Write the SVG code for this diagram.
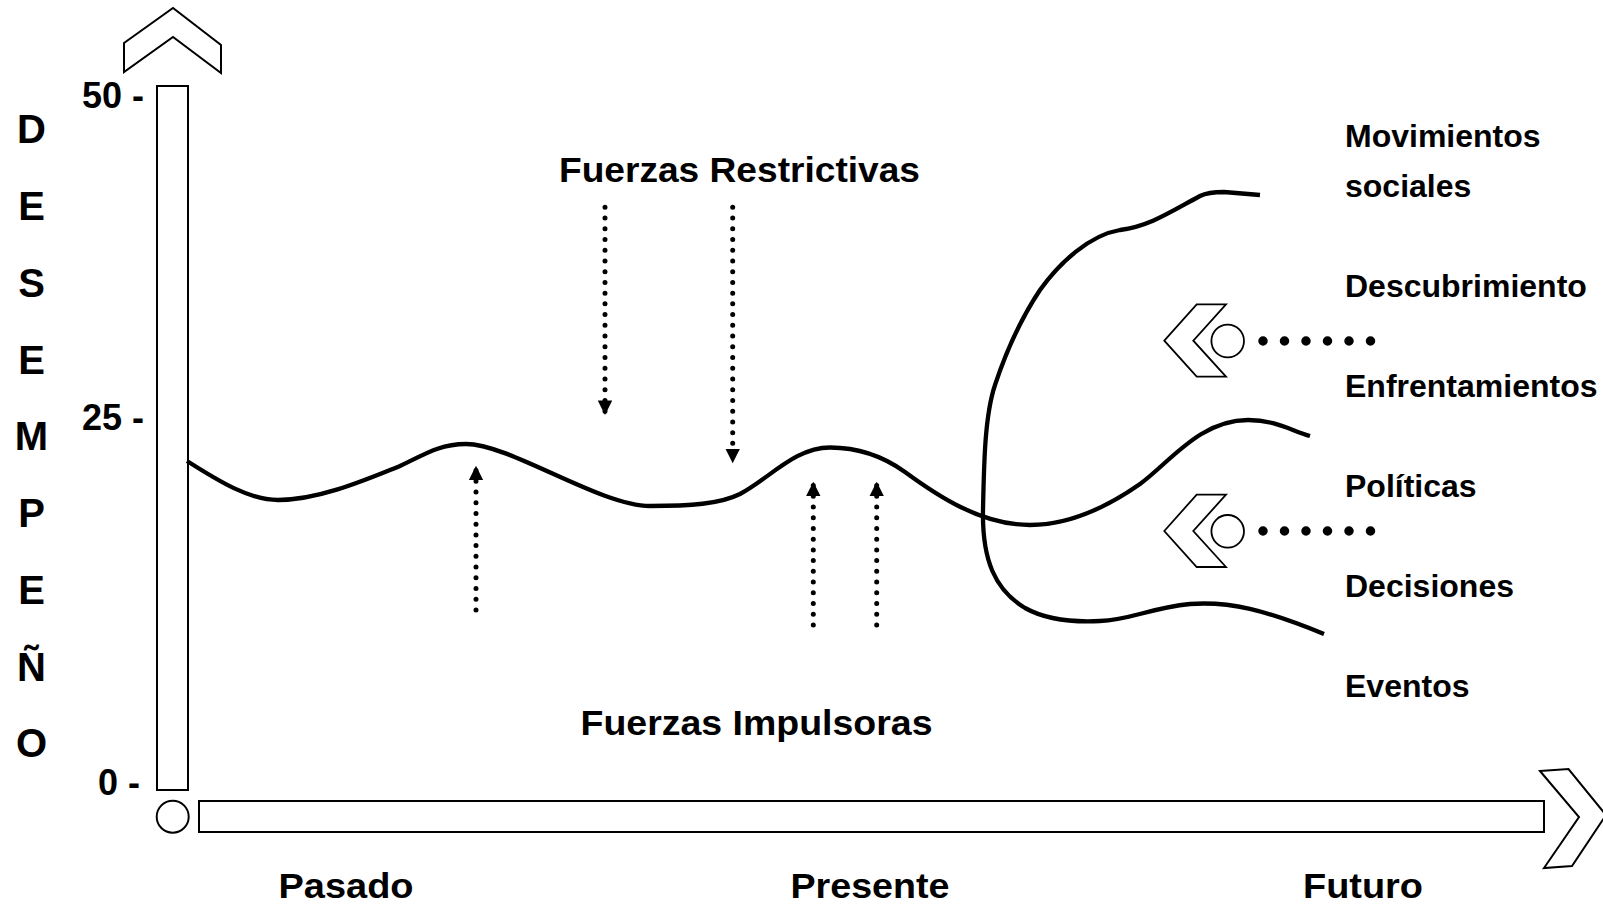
<svg xmlns="http://www.w3.org/2000/svg" width="1603" height="905" viewBox="0 0 1603 905">
<style>
  .shape { fill: #ffffff; stroke: #000000; stroke-width: 2; stroke-linejoin: miter; }
  .curve { fill: none; stroke: #000000; stroke-width: 4.3; stroke-linecap: butt; stroke-linejoin: round; }
  .dots { fill: none; stroke: #000000; stroke-width: 5; stroke-linecap: round; stroke-dasharray: 0 10.73; }
  .hdots { fill: none; stroke: #000000; stroke-width: 9.5; stroke-linecap: round; stroke-dasharray: 0 21.5; }
  text { font-family: "Liberation Sans", Arial, Helvetica, sans-serif; font-weight: bold; fill: #000000; }
  .vert { font-size: 40px; text-anchor: middle; }
  .axis { font-size: 36px; text-anchor: end; }
  .big { font-size: 35px; }
  .side { font-size: 32px; }
</style>
<defs>
  <marker id="head" viewBox="0 0 10 10" refX="10" refY="5" markerUnits="userSpaceOnUse" markerWidth="15" markerHeight="14.5" orient="auto">
    <path d="M0,0 L10,5 L0,10 z" fill="#000000"/>
  </marker>
</defs>
<rect width="1603" height="905" fill="#ffffff"/>

<g id="y-axis">
  <polygon class="shape" points="124,43 173,8 221,45 221,73 173,37 124,72"/>
  <rect class="shape" x="157" y="86" width="31" height="704"/>
</g>

<g id="x-axis">
  <circle class="shape" cx="172.7" cy="816.7" r="16"/>
  <rect class="shape" x="199" y="801" width="1345" height="31"/>
  <polygon class="shape" points="1540,771 1568.5,769 1606,815 1572,866 1544,868 1579,817"/>
</g>

<g id="y-label">
  <text class="vert" x="31.5" y="143.3">D</text>
  <text class="vert" x="31.5" y="220">E</text>
  <text class="vert" x="31.5" y="296.8">S</text>
  <text class="vert" x="31.5" y="373.5">E</text>
  <text class="vert" x="31.5" y="450.3">M</text>
  <text class="vert" x="31.5" y="527">P</text>
  <text class="vert" x="31.5" y="603.8">E</text>
  <text class="vert" x="31.5" y="680.5">Ñ</text>
  <text class="vert" x="31.5" y="757.3">O</text>
</g>

<g id="y-ticks">
  <text class="axis" x="144" y="108">50 -</text>
  <text class="axis" x="144" y="430">25 -</text>
  <text class="axis" x="140" y="795">0 -</text>
</g>

<g id="x-labels">
  <text class="big" x="278.5" y="898" textLength="135" lengthAdjust="spacingAndGlyphs">Pasado</text>
  <text class="big" x="790.5" y="898" textLength="159" lengthAdjust="spacingAndGlyphs">Presente</text>
  <text class="big" x="1303" y="898" textLength="120" lengthAdjust="spacingAndGlyphs">Futuro</text>
</g>

<g id="titles">
  <text class="big" x="559" y="182" textLength="361" lengthAdjust="spacingAndGlyphs">Fuerzas Restrictivas</text>
  <text class="big" x="580.5" y="735" textLength="352" lengthAdjust="spacingAndGlyphs">Fuerzas Impulsoras</text>
</g>

<g id="side-labels">
  <text class="side" x="1345" y="147">Movimientos</text>
  <text class="side" x="1345" y="197">sociales</text>
  <text class="side" x="1345" y="296.5">Descubrimiento</text>
  <text class="side" x="1345" y="396.5">Enfrentamientos</text>
  <text class="side" x="1345" y="496.5">Políticas</text>
  <text class="side" x="1345" y="597">Decisiones</text>
  <text class="side" x="1345" y="697">Eventos</text>
</g>

<g id="influence-1">
  <polygon class="shape" style="stroke-width:1.8" points="1164.3,340.7 1196.7,304.3 1226,304.3 1193.3,340.7 1226,376.7 1196.7,376.7"/>
  <circle class="shape" style="stroke-width:1.8" cx="1227.7" cy="341" r="16.3"/>
</g>
<g id="influence-2">
  <polygon class="shape" style="stroke-width:1.8" points="1164.3,531 1196.7,494.6 1226,494.6 1193.3,531 1226,567 1196.7,567"/>
  <circle class="shape" style="stroke-width:1.8" cx="1227.7" cy="531.3" r="16.3"/>
</g>

<g id="curves">
  <path class="curve" d="M187,461 C220,482 250,500 278,500 C320,500 370,478 400,466 C425,454 440,444 466,444 C510,444 600,506 650,506 C690,506 720,504 740,494 C770,478 795,447.5 830,447.5 C855,447.5 880,454 905,472 C935,494 980,525 1030,525 C1070,525 1110,505 1140,484 C1170,462 1200,420 1248,420 C1275,420 1290,430 1310,436"/>
  <path class="curve" d="M1260,195 L1224,192 C1215,192 1206,193 1200,196 C1170,212 1150,226 1120,230 C1090,235 1060,262 1040,290 C1020,320 1005,355 995,385 C985,415 984,460 983,510 C982,560 995,590 1025,608 C1050,622 1080,622 1100,621 C1130,620 1150,608 1190,604 C1230,601 1265,610 1324,634"/>
</g>

<g id="connectors">
  <path class="dots" marker-end="url(#head)" d="M605,207.3 L605,415"/>
  <path class="dots" marker-end="url(#head)" d="M732.7,207.3 L732.7,463.3"/>
  <path class="dots" marker-end="url(#head)" d="M476,610 L476,465.7"/>
  <path class="dots" marker-end="url(#head)" d="M813.3,625 L813.3,481.7"/>
  <path class="dots" marker-end="url(#head)" d="M876.7,625 L876.7,481.7"/>
  <path class="hdots" d="M1263,341 L1371,341"/>
  <path class="hdots" d="M1263,531 L1371,531"/>
</g>
</svg>
